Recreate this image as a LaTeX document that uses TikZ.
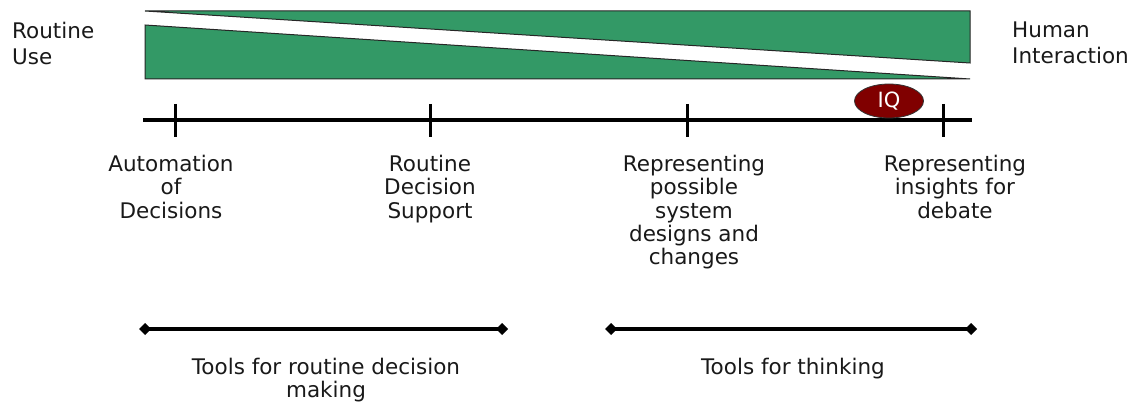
\documentclass[tikz,border=0pt]{standalone}
\usepackage{fontspec}
\setmainfont{DejaVu Sans}
\usetikzlibrary{arrows.meta,shapes.geometric}
\definecolor{wedgegreen}{RGB}{51,153,102}
\definecolor{iqred}{RGB}{128,0,0}
\begin{document}
\begin{tikzpicture}[x=1pt,y=-1pt,
  txt/.style={font=\fontsize{21.5}{23.3}\selectfont, inner sep=0pt, align=center, text=black!90},
  sidetxt/.style={font=\fontsize{21.5}{26}\selectfont, inner sep=0pt, align=left, anchor=north west, text=black!90},
  wedge/.style={fill=wedgegreen, draw=black!85, line width=1pt, line join=miter},
  axisline/.style={line width=4pt},
  tickmark/.style={line width=3pt},
  rangeline/.style={line width=4pt, {Diamond[length=12pt,width=12pt]}-{Diamond[length=12pt,width=12pt]}},
]
\useasboundingbox (0,0) rectangle (1138,406);

% wedges
\draw[wedge] (145,11) -- (970,11) -- (970,63) -- cycle;
\draw[wedge] (145,25) -- (970,79) -- (145,79) -- cycle;

% side labels
\node[sidetxt] (routineuse) at (12,22) {Routine\\Use};
\node[sidetxt] (human) at (1012,22) {Human\\Interaction};

% axis
\coordinate (axL) at (143,120);
\coordinate (axR) at (972,120);
\draw[axisline] (axL) -- (axR);
\foreach \x/\n in {175/t1,430/t2,687/t3,943/t4}{
  \coordinate (\n top) at (\x,104);
  \coordinate (\n bot) at (\x,137);
  \draw[tickmark] (\n top) -- (\n bot);
}

% IQ ellipse
\node[ellipse, fill=iqred, draw=black!80, line width=0.8pt, minimum width=69pt, minimum height=34pt, inner sep=0pt,
      text=white, font=\fontsize{21}{22}\selectfont] (iq) at (889,101) {IQ};

% tick labels
\node[txt, anchor=north] (auto) at (171,155) {Automation\\of\\Decisions};
\node[txt, anchor=north] (rds) at (430,155) {Routine\\Decision\\Support};
\node[txt, anchor=north] (rpsd) at (694,155) {Representing\\possible\\system\\designs and\\changes};
\node[txt, anchor=north] (rid) at (955,155) {Representing\\insights for\\debate};

% range lines
\coordinate (r1L) at (139,329);
\coordinate (r1R) at (508,329);
\coordinate (r2L) at (605,329);
\coordinate (r2R) at (977,329);
\draw[rangeline] (r1L) -- (r1R);
\draw[rangeline] (r2L) -- (r2R);

\node[txt, anchor=north] (routinetools) at (326,358) {Tools for routine decision\\making};
\node[txt, anchor=north] (thinktools) at (793,358) {Tools for thinking};
\end{tikzpicture}
\end{document}
